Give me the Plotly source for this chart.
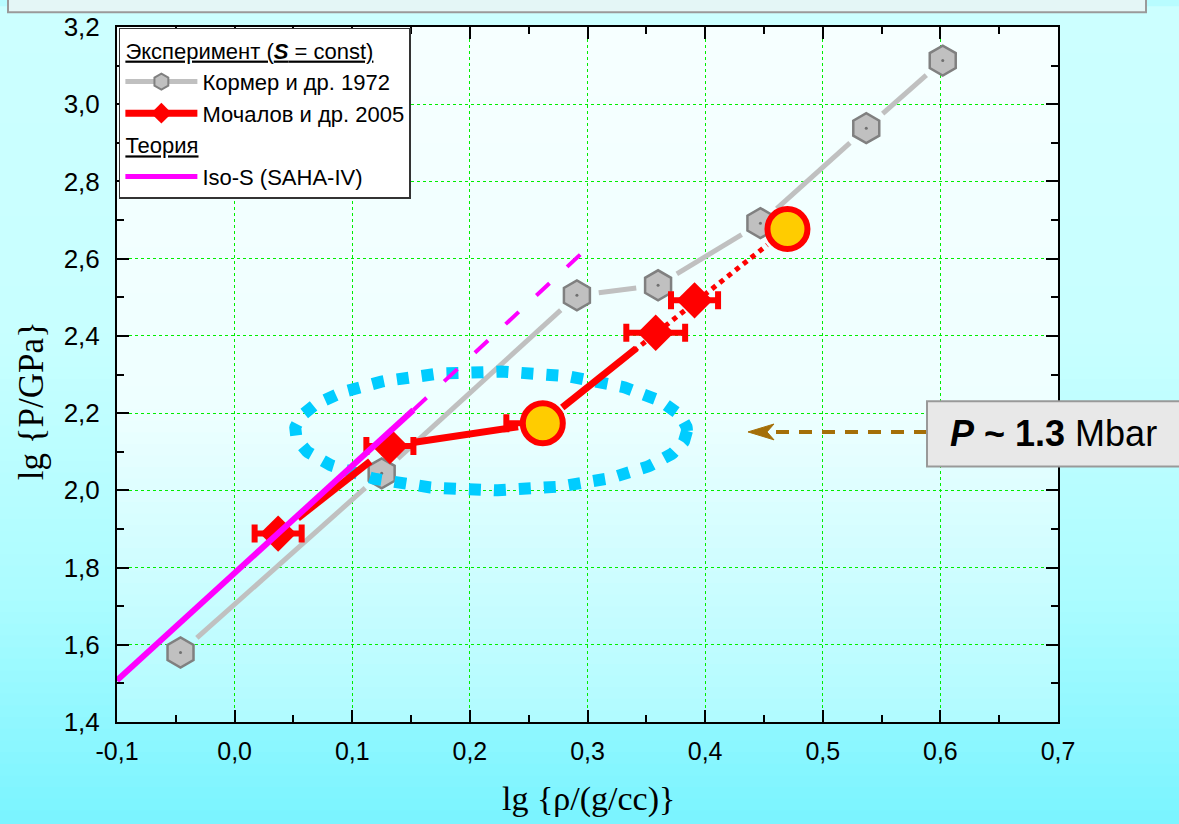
import numpy as np
import plotly.graph_objects as go

# ---------------- data ----------------
x_tick_vals = [-0.1, 0.0, 0.1, 0.2, 0.3, 0.4, 0.5, 0.6, 0.7]
x_tick_text = ["-0,1", "0,0", "0,1", "0,2", "0,3", "0,4", "0,5", "0,6", "0,7"]
y_tick_vals = [1.4, 1.6, 1.8, 2.0, 2.2, 2.4, 2.6, 2.8, 3.0, 3.2]
y_tick_text = ["1,4", "1,6", "1,8", "2,0", "2,2", "2,4", "2,6", "2,8", "3,0", "3,2"]

# Кормер и др. 1972
kormer_x = [-0.046, 0.125, 0.291, 0.360, 0.447, 0.537, 0.602]
kormer_y = [1.580, 2.044, 2.505, 2.531, 2.692, 2.938, 3.113]

# Мочалов и др. 2005
moch_x = [0.037, 0.132, 0.262, 0.358, 0.391, 0.470]
moch_y = [1.888, 2.115, 2.174, 2.408, 2.492, 2.677]
moch_err_minus = [0.020, 0.020, 0.031, 0.025, 0.020, 0.015]
moch_err_plus = [0.020, 0.020, 0.015, 0.025, 0.020, 0.015]
moch_highlight = [False, False, True, False, False, True]
moch_solid_count = 5

# Iso-S (SAHA-IV): first segment solid, second dashed
iso_x = [-0.1, 0.152, 0.300]
iso_y = [1.508, 2.208, 2.628]

# ---------------- layout geometry ----------------
W, H = 1179, 824
ML, MR, MT, MB = 117, 121, 20, 102
PW, PH = W - ML - MR, H - MT - MB
X_RANGE = [-0.1, 0.7]
Y_RANGE = [1.4, 3.2]
SX = PW / (X_RANGE[1] - X_RANGE[0])
SY = PH / (Y_RANGE[1] - Y_RANGE[0])


def px2paper(px, py):
    return (px - ML) / PW, (H - MB - py) / PH


def gapped(xs, ys, gap):
    ox, oy = [], []
    for i in range(len(xs) - 1):
        dx = (xs[i + 1] - xs[i]) * SX
        dy = (ys[i + 1] - ys[i]) * SY
        L = (dx * dx + dy * dy) ** 0.5
        if L <= 2 * gap + 2:
            continue
        f = gap / L
        ox += [xs[i] + f * (xs[i + 1] - xs[i]), xs[i + 1] - f * (xs[i + 1] - xs[i]), None]
        oy += [ys[i] + f * (ys[i + 1] - ys[i]), ys[i + 1] - f * (ys[i + 1] - ys[i]), None]
    return ox, oy


def lerp_color(stops, t):
    for (t0, c0), (t1, c1) in zip(stops[:-1], stops[1:]):
        if t <= t1:
            u = 0 if t1 == t0 else (t - t0) / (t1 - t0)
            c = [round(a + (b - a) * u) for a, b in zip(c0, c1)]
            return "rgb(%d,%d,%d)" % tuple(c)
    return "rgb(%d,%d,%d)" % tuple(stops[-1][1])


fig = go.Figure()

# Kormer line with gaps + markers
kx, ky = gapped(kormer_x, kormer_y, 22)
fig.add_trace(go.Scatter(x=kx, y=ky, mode="lines", line=dict(color="#c0c0c0", width=5),
                         showlegend=False, hoverinfo="skip"))
fig.add_trace(go.Scatter(x=kormer_x, y=kormer_y, mode="markers",
                         marker=dict(symbol="hexagon", size=30, color="#c0c0c0",
                                     line=dict(color="#808080", width=2.5)),
                         showlegend=False))
fig.add_trace(go.Scatter(x=kormer_x, y=kormer_y, mode="markers",
                         marker=dict(symbol="circle", size=3, color="#707070"),
                         showlegend=False, hoverinfo="skip"))

# dotted ellipse highlight
ecx0, ecy0 = 295, 368
ecx1, ecy1 = 687, 488
t = np.linspace(0, 2 * np.pi, 361)
exc = (ecx0 + ecx1) / 2
eyc = (ecy0 + ecy1) / 2
erx = (ecx1 - ecx0) / 2
ery = (ecy1 - ecy0) / 2
ex_px = exc + erx * np.cos(t)
ey_px = eyc + ery * np.sin(t)
ex = X_RANGE[0] + (ex_px - ML) / SX
ey = Y_RANGE[1] - (ey_px - MT) / SY
fig.add_trace(go.Scatter(x=ex, y=ey, mode="lines",
                         line=dict(color="#00ccff", width=12, dash="12px,13px"),
                         showlegend=False, hoverinfo="skip"))

# Mochalov lines
hx = [x for x, h in zip(moch_x, moch_highlight) if h]
hy = [y for y, h in zip(moch_y, moch_highlight) if h]
dx_, dy_ = gapped(hx, hy, 26)
fig.add_trace(go.Scatter(x=dx_, y=dy_, mode="lines",
                         line=dict(color="#ff0000", width=5, dash="5px,5px"),
                         showlegend=False, hoverinfo="skip"))
sx_, sy_ = gapped(moch_x[:moch_solid_count], moch_y[:moch_solid_count], 25)
fig.add_trace(go.Scatter(x=sx_, y=sy_, mode="lines",
                         line=dict(color="#ff0000", width=7),
                         showlegend=False, hoverinfo="skip"))

# Mochalov markers
for flag in (False, True):
    idx = [i for i, h in enumerate(moch_highlight) if h == flag]
    if flag:
        mk = dict(symbol="circle", size=40, color="#ffcc00", line=dict(color="#ff0000", width=6))
    else:
        mk = dict(symbol="diamond", size=28, color="#ff0000", line=dict(width=0))
    fig.add_trace(go.Scatter(
        x=[moch_x[i] for i in idx], y=[moch_y[i] for i in idx], mode="markers",
        marker=mk,
        error_x=dict(type="data", symmetric=False,
                     array=[moch_err_plus[i] for i in idx],
                     arrayminus=[moch_err_minus[i] for i in idx],
                     color="#ff0000", thickness=6, width=9),
        showlegend=False))

# Iso-S theory
fig.add_trace(go.Scatter(x=iso_x[:2], y=iso_y[:2], mode="lines",
                         line=dict(color="#ff00ff", width=6),
                         showlegend=False, hoverinfo="skip"))
fig.add_trace(go.Scatter(x=iso_x[1:], y=iso_y[1:], mode="lines",
                         line=dict(color="#ff00ff", width=4, dash="18px,24px"),
                         showlegend=False, hoverinfo="skip"))

# legend entries
LEG_SIZE = 22
LEG_FONT = dict(family="Liberation Sans, Arial", size=LEG_SIZE, color="black")
fig.add_trace(go.Scatter(
    x=[None], y=[None], mode="lines+markers", name="Кормер и др. 1972",
    line=dict(color="#c0c0c0", width=5),
    marker=dict(symbol="hexagon", size=30, color="#c0c0c0", line=dict(color="#808080", width=2)),
    legendgroup="exp",
    legendgrouptitle=dict(text="Эксперимент (<b><i>S</i></b> = const)",
                          font=dict(family="Liberation Sans, Arial", size=LEG_SIZE, color="black",
                                    lineposition="under"))))
fig.add_trace(go.Scatter(
    x=[None], y=[None], mode="lines+markers", name="Мочалов и др. 2005",
    line=dict(color="#ff0000", width=7),
    marker=dict(symbol="diamond", size=30, color="#ff0000"),
    legendgroup="exp"))
fig.add_trace(go.Scatter(
    x=[None], y=[None], mode="lines", name="Iso-S (SAHA-IV)",
    line=dict(color="#ff00ff", width=5),
    legendgroup="th",
    legendgrouptitle=dict(text="Теория",
                          font=dict(family="Liberation Sans, Arial", size=LEG_SIZE, color="black",
                                    lineposition="under"))))

# ---------------- background gradients ----------------
shapes = []
outer_stops = [(0.0, (204, 255, 255)), (0.4, (200, 255, 255)), (0.72, (172, 252, 255)), (1.0, (122, 244, 255))]
inner_stops = [(0.0, (246, 255, 255)), (0.55, (238, 255, 255)), (1.0, (176, 251, 255))]
N_OUT = 70
for k in range(N_OUT):
    y0p = H * k / N_OUT
    y1p = H * (k + 1) / N_OUT
    xa, ya = px2paper(-2, y1p + 1)
    xb, yb = px2paper(W + 2, y0p - 1)
    shapes.append(dict(type="rect", xref="paper", yref="paper", x0=xa, x1=xb, y0=ya, y1=yb,
                       fillcolor=lerp_color(outer_stops, (k + 0.5) / N_OUT),
                       line=dict(width=0), layer="below"))
N_IN = 60
for k in range(N_IN):
    y0p = MT + PH * k / N_IN
    y1p = MT + PH * (k + 1) / N_IN
    xa, ya = px2paper(ML, min(y1p + 1, MT + PH))
    xb, yb = px2paper(ML + PW, y0p)
    shapes.append(dict(type="rect", xref="paper", yref="paper", x0=xa, x1=xb, y0=ya, y1=yb,
                       fillcolor=lerp_color(inner_stops, (k + 0.5) / N_IN),
                       line=dict(width=0), layer="below"))

# top frame box
xa, ya = px2paper(8, 5)
xb, yb = px2paper(1146, -20)
shapes.append(dict(type="rect", xref="paper", yref="paper", x0=xa, x1=xb, y0=ya, y1=yb,
                   fillcolor="#e4f6f6", line=dict(color="#9a9a9a", width=2), layer="above"))

# pressure label box
xa, ya = px2paper(927, 464)
xb, yb = px2paper(1190, 398)
shapes.append(dict(type="rect", xref="paper", yref="paper", x0=xa, x1=xb, y0=ya, y1=yb,
                   fillcolor="#e8e8e8", line=dict(color="#999999", width=2), layer="above"))

# dashed arrow
ARROW_C = "#a46f08"
xa, ya = px2paper(776, 429)
xb, yb = px2paper(926, 429)
shapes.append(dict(type="line", xref="paper", yref="paper", x0=xa, x1=xb, y0=ya, y1=yb,
                   line=dict(color=ARROW_C, width=4, dash="13px,10px"), layer="above"))
pts = [(748, 429), (774, 421), (767, 429), (774, 437)]
path = "M " + " L ".join("%.5f,%.5f" % px2paper(*p) for p in pts) + " Z"
shapes.append(dict(type="path", xref="paper", yref="paper", path=path,
                   fillcolor=ARROW_C, line=dict(color=ARROW_C, width=1), layer="above"))

# ---------------- annotations ----------------
annotations = []
tx, ty = px2paper(1053, 431)
annotations.append(dict(xref="paper", yref="paper", x=tx, y=ty, xanchor="center", yanchor="middle",
                        text="<b><i>P</i> ~ 1.3</b> Mbar", showarrow=False,
                        font=dict(family="Liberation Sans, Arial", size=36, color="black")))
tx, ty = px2paper(588, 800)
annotations.append(dict(xref="paper", yref="paper", x=tx, y=ty, xanchor="center", yanchor="middle",
                        text="lg {ρ/(g/cc)}", showarrow=False,
                        font=dict(family="Liberation Serif, Times New Roman", size=34, color="black")))
tx, ty = px2paper(31, 398)
annotations.append(dict(xref="paper", yref="paper", x=tx, y=ty, xanchor="center", yanchor="middle",
                        text="lg {P/GPa}", showarrow=False, textangle=-90,
                        font=dict(family="Liberation Serif, Times New Roman", size=35, color="black")))

x_minor = [(a + b) / 2 for a, b in zip(x_tick_vals[:-1], x_tick_vals[1:])]
y_minor = [(a + b) / 2 for a, b in zip(y_tick_vals[:-1], y_tick_vals[1:])]

axis_common = dict(showline=True, linecolor="black", linewidth=2, mirror="ticks",
                   ticks="inside", ticklen=12, tickwidth=1.5, tickcolor="black",
                   showgrid=True, gridcolor="#00ee00", gridwidth=1, griddash="dot",
                   zeroline=False)

fig.update_layout(
    width=W, height=H,
    margin=dict(l=ML, r=MR, t=MT, b=MB, pad=0),
    paper_bgcolor="#b8fcff",
    plot_bgcolor="rgba(0,0,0,0)",
    xaxis=dict(range=X_RANGE, tickmode="array", tickvals=x_tick_vals, ticktext=x_tick_text,
               minor=dict(tickmode="array", tickvals=x_minor, ticks="inside", ticklen=7,
                          tickwidth=1.5, tickcolor="black", showgrid=False),
               tickfont=dict(family="Liberation Sans, Arial", size=25, color="black"),
               ticklabelstandoff=6, **axis_common),
    yaxis=dict(range=Y_RANGE, tickmode="array", tickvals=y_tick_vals, ticktext=y_tick_text,
               minor=dict(tickmode="array", tickvals=y_minor, ticks="inside", ticklen=7,
                          tickwidth=1.5, tickcolor="black", showgrid=False),
               tickfont=dict(family="Liberation Sans, Arial", size=26, color="black"),
               ticklabelstandoff=10, **axis_common),
    legend=dict(x=0.002, y=0.999, xanchor="left", yanchor="top",
                bgcolor="white", bordercolor="#333333", borderwidth=1.5,
                font=LEG_FONT, traceorder="grouped", tracegroupgap=0, itemwidth=72),
    shapes=shapes,
    annotations=annotations,
    showlegend=True,
)

fig.write_html("out.html")
